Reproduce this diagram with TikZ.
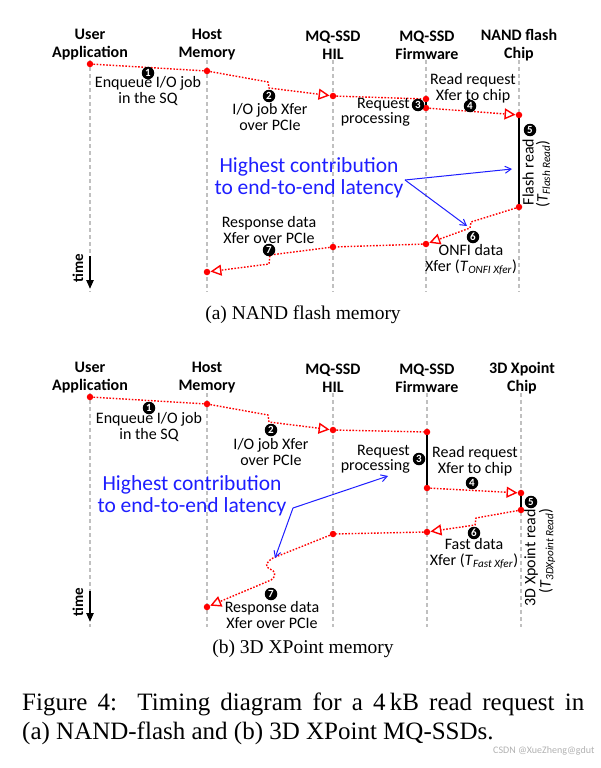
\documentclass[tikz,border=0pt]{standalone}
\usepackage{fontspec}
\setmainfont{Carlito}
\newfontfamily\serifcap{Liberation Serif}
\usetikzlibrary{arrows.meta}
\definecolor{lanegray}{RGB}{192,192,192}
\definecolor{msgred}{RGB}{255,0,0}
\definecolor{noteblue}{RGB}{30,30,255}
\begin{document}
\begin{tikzpicture}[x=1pt,y=-1pt,
  lane/.style={lanegray,line width=1.2pt,dash pattern=on 4pt off 3pt},
  msg/.style={msgred,line width=1.4pt,dash pattern=on 1.6pt off 1.6pt},
  msgarr/.style={msg,-{Triangle[open,length=11pt,width=11pt,line width=1.4pt]}},
  dot/.style={circle,fill=msgred,inner sep=0pt,minimum size=6.5pt},
  num/.style={circle,fill=black,text=white,inner sep=0pt,minimum size=12.5pt,font=\bfseries\fontsize{11}{11}\selectfont},
  hdr/.style={align=center,font=\bfseries\fontsize{16}{18}\selectfont},
  lbl/.style={align=center,inner sep=0pt,font=\fontsize{16}{15.5}\selectfont},
  busy/.style={line width=2.6pt},
  note/.style={noteblue,align=center,font=\fontsize{21.5}{21.5}\selectfont},
  pointer/.style={noteblue,line width=1pt,-{Straight Barb[length=6pt,width=7pt]}},
  timearr/.style={line width=2.4pt,-{Triangle[length=9pt,width=7pt]}},
  subcap/.style={font=\serifcap\fontsize{19.5}{22}\selectfont}]
  \fill[white] (0,0) rectangle (601,768);
  \useasboundingbox (0,0) rectangle (601,768);

  \foreach \x in {90,207,333,426,519} \draw[lane] (\x,60) -- (\x,292);
  \node[hdr] (a-usr) at (90,45) {User\\Application};
  \node[hdr] (a-hst) at (207,45) {Host\\Memory};
  \node[hdr] (a-hil) at (333,45) {MQ-SSD\\HIL};
  \node[hdr] (a-fw) at (427,45) {MQ-SSD\\Firmware};
  \node[hdr] (a-chp) at (519,45) {NAND flash\\Chip};

  \node[dot] (a1) at (90,64) {};
  \node[dot] (a2) at (207,71) {};
  \node[dot] (a3) at (333,96) {};
  \node[dot] (a4) at (426,99) {};
  \node[dot] (a5) at (426,108) {};
  \node[dot] (a6) at (519,115) {};
  \node[dot] (a7) at (519,207) {};
  \node[dot] (a8) at (426,244) {};
  \node[dot] (a9) at (333,247) {};
  \node[dot] (a10) at (207,272) {};
  \draw[msg] (a1) -- (a2);
  \draw[msgarr] (a2) -- (268,82) -- (269,88) -- (a3);
  \draw[msg] (a3) -- (a4);
  \draw[busy] (a4) -- (a5);
  \draw[msgarr] (a5) -- (a6);
  \draw[busy] (a6) -- (a7);
  \draw[msgarr] (a7) -- (471,222) -- (470,228) -- (a8);
  \draw[msg] (a8) -- (a9);
  \draw[msgarr] (a9) -- (270,255) -- (269,264) -- (a10);

  \node[num] (a-n1) at (148,73) {1};
  \node[lbl] (a-t1) at (148,91) {Enqueue I/O job\\in the SQ};
  \node[num] (a-n2) at (269,96) {2};
  \node[lbl] (a-t2) at (270,117) {I/O job Xfer\\over PCIe};
  \node[lbl,align=right,anchor=east] (a-t3) at (410,112) {Request\\processing};
  \node[num] (a-n3) at (418,105) {3};
  \node[lbl] (a-t4) at (473,88) {Read request\\Xfer to chip};
  \node[num] (a-n4) at (470,106) {4};
  \node[num] (a-n5) at (530,130) {5};
  \node[lbl,rotate=90] (a-t5) at (528,172) {Flash read};
  \node[lbl,rotate=90] (a-t5b) at (543,174) {(\textit{T}\textsubscript{\textit{Flash Read}})};
  \node[num] (a-n6) at (473,237) {6};
  \node[lbl] (a-t6) at (471,260) {ONFI data\\Xfer (\textit{T}\textsubscript{\textit{ONFI Xfer}})};
  \node[lbl] (a-t7) at (269,230) {Response data\\Xfer over PCIe};
  \node[num] (a-n7) at (269,250) {7};

  \node[note] (a-hi) at (309,178) {Highest contribution\\to end-to-end latency};
  \coordinate (a-hc) at (405,180);
  \coordinate (a-p1) at (512,169);
  \coordinate (a-p2) at (467,226);
  \draw[pointer] (a-hc) -- (a-p1);
  \draw[pointer] (a-hc) -- (a-p2);

  \node[hdr,rotate=90,font=\bfseries\fontsize{15}{15}\selectfont] (a-time) at (78,268) {time};
  \coordinate (a-ts) at (90,256);
  \coordinate (a-te) at (90,289);
  \draw[timearr] (a-ts) -- (a-te);
  \node[subcap] (a-cap) at (303,315) {(a) NAND flash memory};

  \foreach \x in {90,207,333,427,521} \draw[lane] (\x,393) -- (\x,627);
  \node[hdr] (b-usr) at (90,378) {User\\Application};
  \node[hdr] (b-hst) at (207,378) {Host\\Memory};
  \node[hdr] (b-hil) at (333,378) {MQ-SSD\\HIL};
  \node[hdr] (b-fw) at (427,378) {MQ-SSD\\Firmware};
  \node[hdr] (b-chp) at (522,378) {3D Xpoint\\Chip};

  \node[dot] (b1) at (90,397) {};
  \node[dot] (b2) at (207,404) {};
  \node[dot] (b3) at (333,430) {};
  \node[dot] (b4) at (427,432) {};
  \node[dot] (b5) at (427,488) {};
  \node[dot] (b6) at (521,493) {};
  \node[dot] (b7) at (521,510) {};
  \node[dot] (b8) at (427,532) {};
  \node[dot] (b9) at (333,534) {};
  \node[dot] (b10) at (207,607) {};
  \draw[msg] (b1) -- (b2);
  \draw[msgarr] (b2) -- (268,415) -- (269,422) -- (b3);
  \draw[msg] (b3) -- (b4);
  \draw[busy] (b4) -- (b5);
  \draw[msgarr] (b5) -- (b6);
  \draw[busy] (b6) -- (b7);
  \draw[msgarr] (b7) -- (476,518) -- (475,525) -- (b8);
  \draw[msg] (b8) -- (b9);
  \draw[msgarr] (b9) -- (273,558) .. controls (266,562) and (264,567) .. (270,569)
    .. controls (276,571) and (276,577) .. (271,580) -- (b10);

  \node[num] (b-n1) at (149,408) {1};
  \node[lbl] (b-t1) at (149,427) {Enqueue I/O job\\in the SQ};
  \node[num] (b-n2) at (271,430) {2};
  \node[lbl] (b-t2) at (271,452) {I/O job Xfer\\over PCIe};
  \node[lbl,align=right,anchor=east] (b-t3) at (410,459) {Request\\processing};
  \node[num] (b-n3) at (419,459) {3};
  \node[lbl] (b-t4) at (475,461) {Read request\\Xfer to chip};
  \node[num] (b-n4) at (472,483) {4};
  \node[num] (b-n5) at (531,502) {5};
  \node[lbl,rotate=90] (b-t5) at (531,558) {3D Xpoint read};
  \node[lbl,rotate=90] (b-t5b) at (547,551) {(\textit{T}\textsubscript{\textit{3DXpoint Read}})};
  \node[num] (b-n6) at (474,533) {6};
  \node[lbl] (b-t6) at (474,554) {Fast data\\Xfer (\textit{T}\textsubscript{\textit{Fast Xfer}})};
  \node[num] (b-n7) at (271,594) {7};
  \node[lbl] (b-t7) at (272,615) {Response data\\Xfer over PCIe};

  \node[note] (b-hi) at (192,496) {Highest contribution\\to end-to-end latency};
  \coordinate (b-hc) at (293,508);
  \coordinate (b-p1) at (388,476);
  \coordinate (b-p2) at (275,558);
  \draw[pointer] (b-hc) -- (b-p1);
  \draw[pointer] (b-hc) -- (b-p2);

  \node[hdr,rotate=90,font=\bfseries\fontsize{15}{15}\selectfont] (b-time) at (78,602) {time};
  \coordinate (b-ts) at (90,591);
  \coordinate (b-te) at (90,622);
  \draw[timearr] (b-ts) -- (b-te);
  \node[subcap] (b-cap) at (303,649) {(b) 3D XPoint memory};

  \node[font=\serifcap\fontsize{25}{29}\selectfont,text width=562pt,align=justify,anchor=base west,inner sep=0pt] (fig) at (22,710)
    {Figure 4:\ \ Timing diagram for a 4\,kB read request in\linebreak (a) NAND-flash and (b) 3D XPoint MQ-SSDs.};
  \node[font=\fontsize{10}{10}\selectfont,text=gray!60,anchor=east] (wm) at (598,751) {CSDN @XueZheng@gdut};
\end{tikzpicture}
\end{document}
